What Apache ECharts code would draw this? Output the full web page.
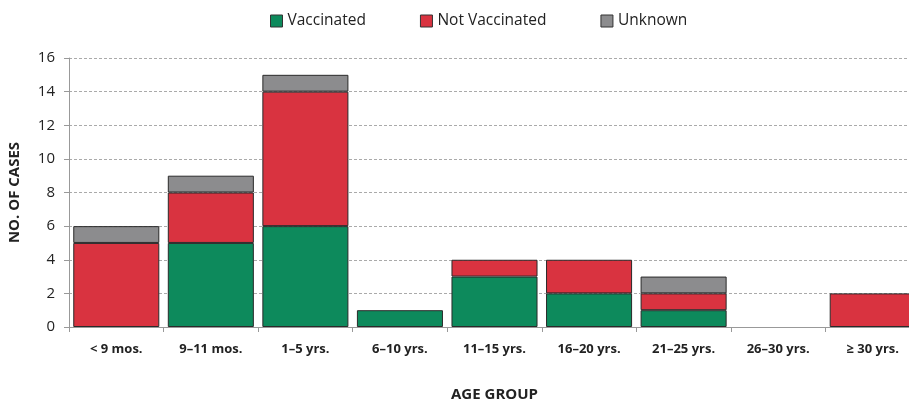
<!DOCTYPE html>
<html><head><meta charset="utf-8">
<script src="https://cdn.jsdelivr.net/npm/echarts@6/dist/echarts.min.js"></script>
<style>html,body{margin:0;padding:0;background:#fff}#c{width:909px;height:402px}</style>
</head><body><div id="c"></div>
<script>
const categories = ['< 9 mos.', '9\u201311 mos.', '1\u20135 yrs.', '6\u201310 yrs.', '11\u201315 yrs.', '16\u201320 yrs.', '21\u201325 yrs.', '26\u201330 yrs.', '\u2265 30 yrs.'];
const vaccinated = [0, 5, 6, 1, 3, 2, 1, 0, 0];
const notVaccinated = [5, 3, 8, 0, 1, 2, 1, 0, 2];
const unknown = [1, 1, 1, 0, 0, 0, 1, 0, 0];
const yTicks = [0, 2, 4, 6, 8, 10, 12, 14, 16];

const chart = echarts.init(document.getElementById('c'));
const font = '"Open Sans", Lato, sans-serif';
function ser(name, data, color) {
  return {
    name, type: 'bar', stack: 'a', data: data.map(v => v === 0 ? '-' : v), barCategoryGap: '9%',
    itemStyle: { color, borderColor: '#2a2a2a', borderWidth: 1 },
    emphasis: { disabled: true }
  };
}
chart.setOption({
  animation: false,
  textStyle: { fontFamily: font },
  legend: {
    top: 8, left: 265, itemWidth: 12, itemHeight: 12, itemGap: 54,
    icon: 'rect',
    textStyle: { fontSize: 15.5, color: '#222', fontFamily: font },
    itemStyle: { borderColor: '#333', borderWidth: 1 },
    data: ['Vaccinated', 'Not Vaccinated', 'Unknown']
  },
  grid: { left: 69, right: -11, top: 58, bottom: 75, outerBoundsMode: 'none', containLabel: false },
  xAxis: {
    type: 'category', data: categories,
    name: 'AGE GROUP', nameLocation: 'middle', nameGap: 60,
    nameTextStyle: { fontSize: 15, fontWeight: 'bold', color: '#222' },
    axisLine: { lineStyle: { color: '#999' } },
    axisTick: { show: true, length: 5, lineStyle: { color: '#999' } },
    axisLabel: { fontSize: 13, fontWeight: 'bold', color: '#222', margin: 16, interval: 0 }
  },
  yAxis: {
    type: 'value', min: 0, max: 16, interval: 2,
    name: 'NO. OF CASES', nameLocation: 'middle', nameGap: 47, nameRotate: 90,
    nameTextStyle: { fontSize: 15, fontWeight: 'bold', color: '#222' },
    axisLine: { show: true, lineStyle: { color: '#999' } },
    axisTick: { show: true, length: 5, lineStyle: { color: '#999' } },
    axisLabel: { fontSize: 15, color: '#222', margin: 14,
      formatter: v => yTicks.includes(v) ? String(v) : '' },
    splitLine: { lineStyle: { color: '#aaa', type: [3, 2], width: 1 } }
  },
  series: [
    ser('Vaccinated', vaccinated, '#0d8a5c'),
    ser('Not Vaccinated', notVaccinated, '#d93340'),
    ser('Unknown', unknown, '#8c8c8e')
  ]
});
</script></body></html>
